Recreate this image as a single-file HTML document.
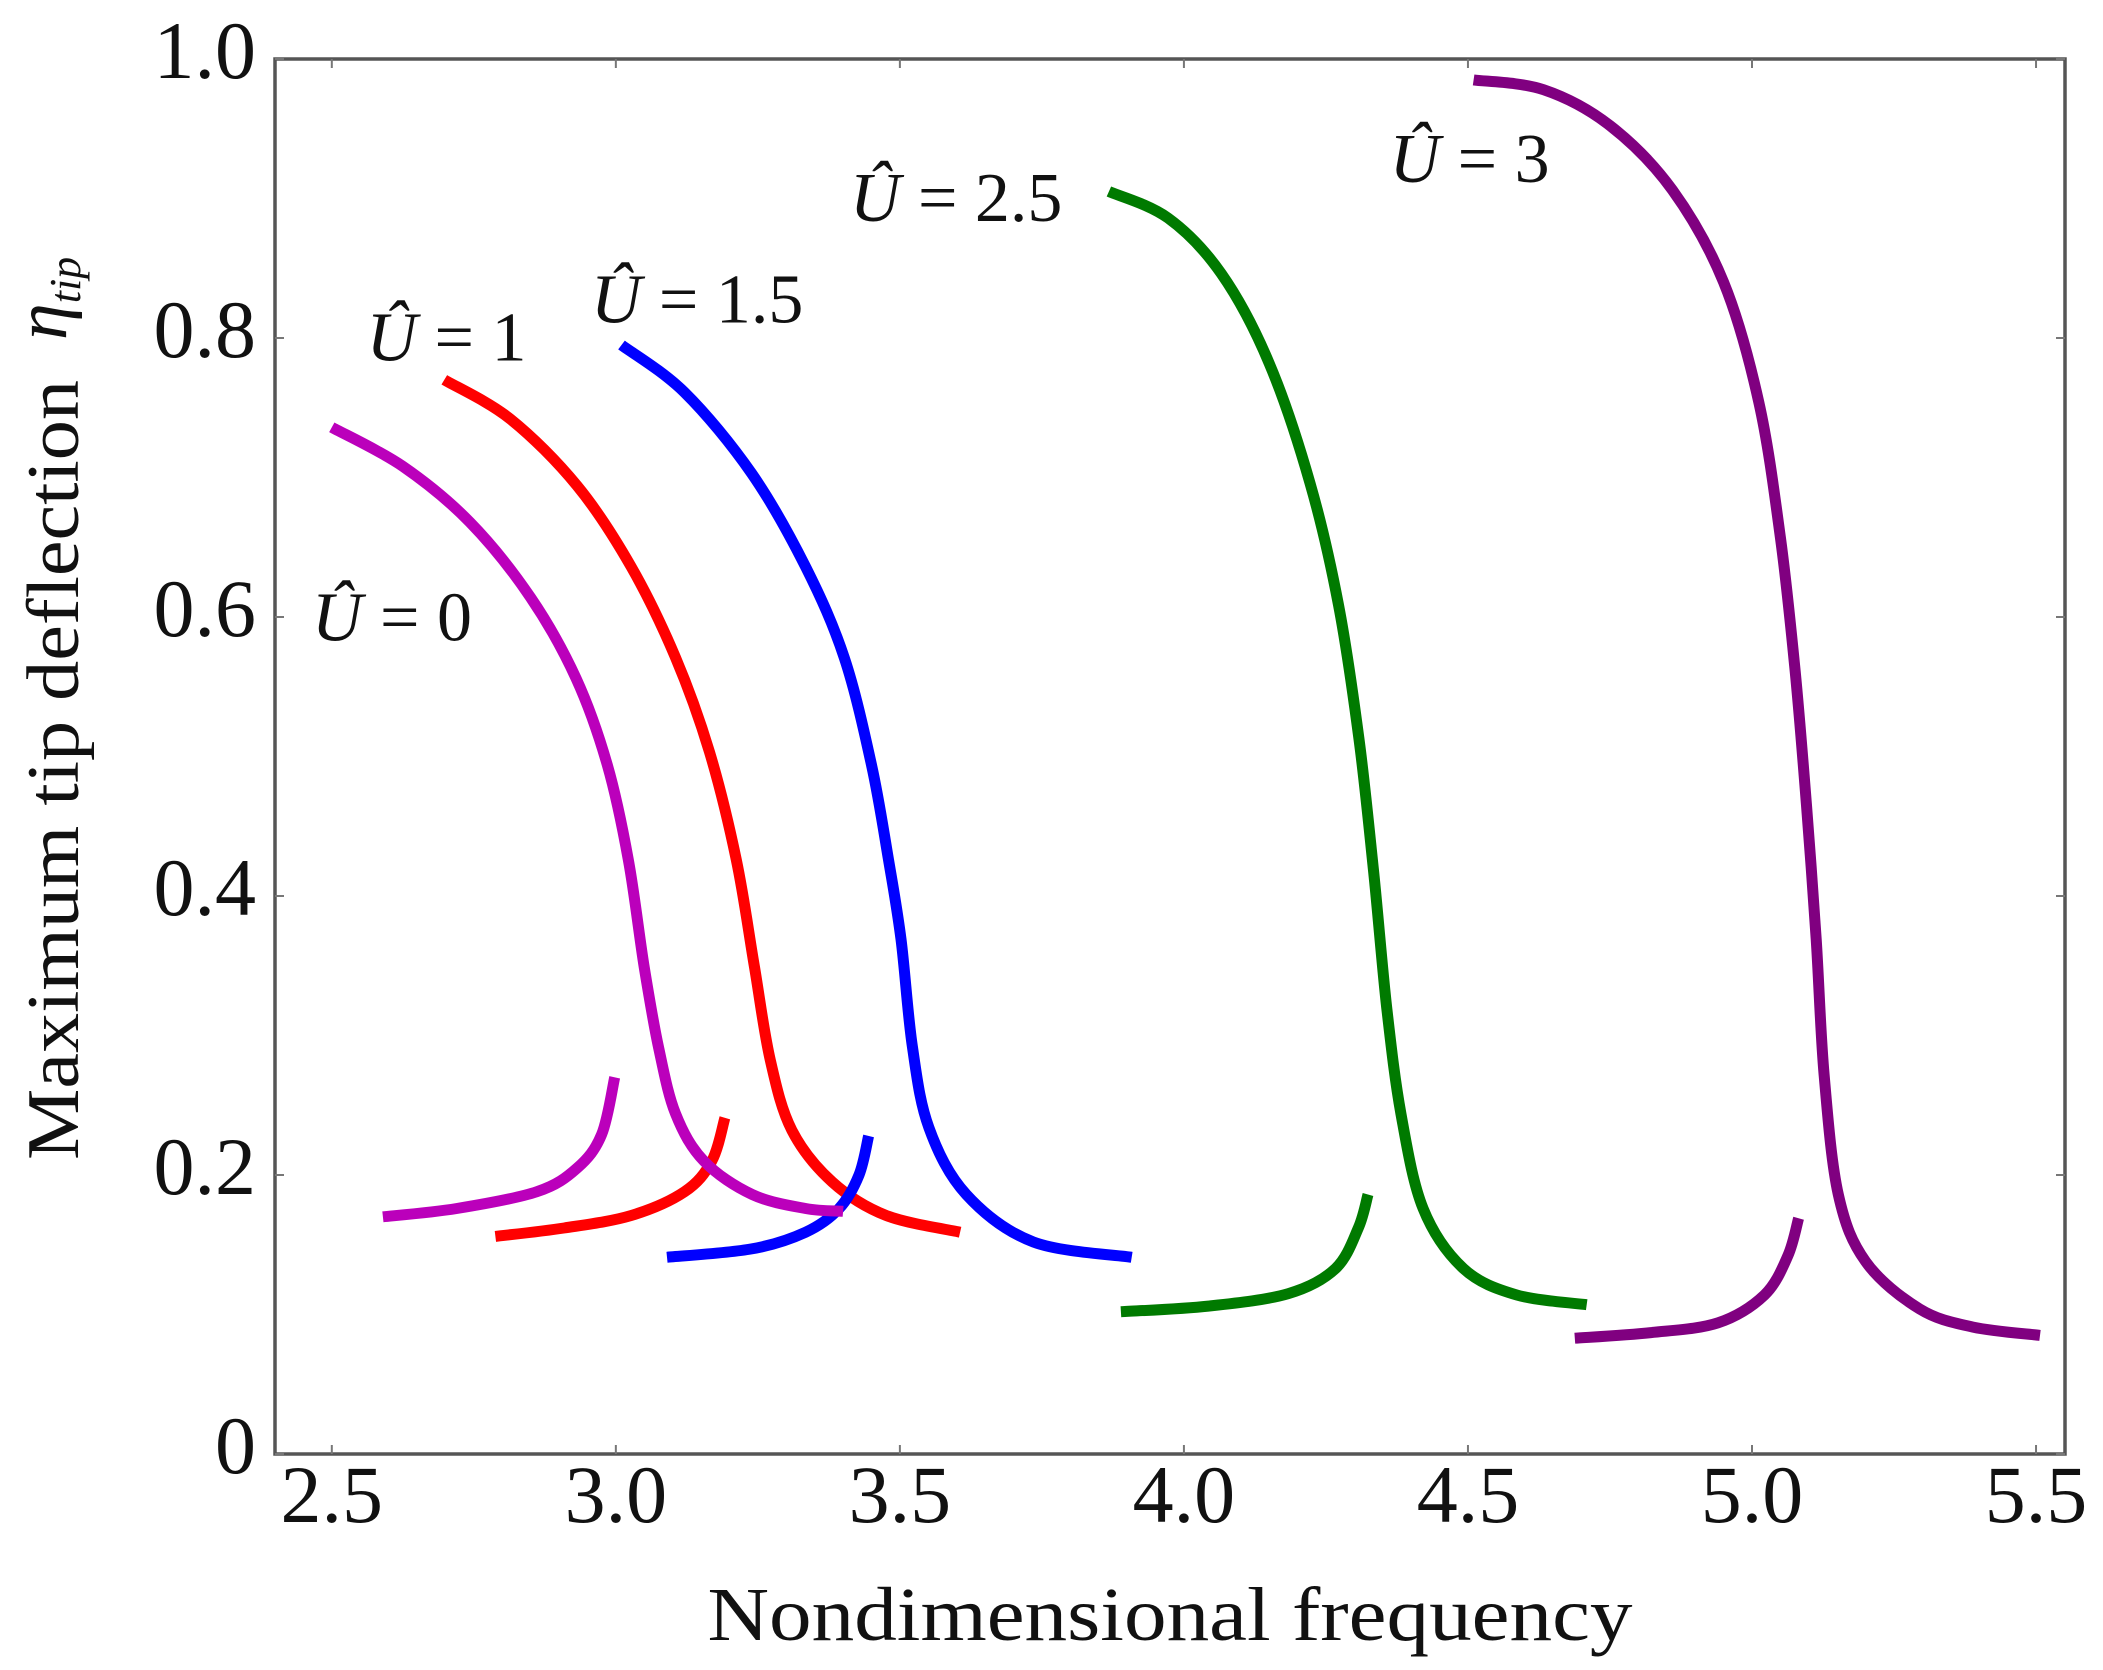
<!DOCTYPE html>
<html><head><meta charset="utf-8"><style>
html,body{margin:0;padding:0;background:#fff;}
svg{display:block;}
text{font-family:"Liberation Serif",serif;fill:#111;}
</style></head><body>
<svg id="chart" width="2103" height="1670" viewBox="0 0 2103 1670" xmlns="http://www.w3.org/2000/svg">
<g id="curves"></g>
<rect x="275" y="59" width="1790" height="1395" fill="none" stroke="#555" stroke-width="3.5"/>
<g id="ticks"></g>
<text x="1170" y="1640" font-size="76" text-anchor="middle" textLength="925" lengthAdjust="spacingAndGlyphs">Nondimensional frequency</text>
<g transform="translate(78,770) rotate(-90)">
<text x="0" y="0" font-size="74" text-anchor="middle" textLength="780" lengthAdjust="spacingAndGlyphs">Maximum tip deflection</text>
<text x="430" y="-12" font-size="74" font-style="italic">η<tspan font-size="44" dy="14">tip</tspan></text>
</g>
<g id="labels"></g>
</svg>
<script>
const xTicks = [2.5, 3.0, 3.5, 4.0, 4.5, 5.0, 5.5];
const xTickLabels = ["2.5","3.0","3.5","4.0","4.5","5.0","5.5"];
const yTicks = [0, 0.2, 0.4, 0.6, 0.8, 1.0];
const yTickLabels = ["0","0.2","0.4","0.6","0.8","1.0"];
const seriesNames = ["U=1","U=1.5","U=0","U=2.5","U=3"];
const seriesColors = ["#ff0000","#0000ff","#bb00bb","#007a00","#800080"];
const labelTexts = ["1","1.5","0","2.5","3"];
const labelAnchors = [[2.561,0.784],[2.956,0.811],[2.465,0.583],[3.412,0.884],[4.362,0.912]];
const u0Upper = [[2.5,0.736],[2.625,0.708],[2.743,0.668],[2.85,0.614],[2.93,0.556],[2.985,0.494],[3.022,0.426],[3.05,0.349],[3.075,0.292],[3.105,0.244],[3.155,0.21],[3.24,0.186],[3.334,0.176],[3.40,0.174]];
const u0Lower = [[2.59,0.170],[2.72,0.176],[2.861,0.188],[2.932,0.205],[2.975,0.229],[2.998,0.27]];
const u1Upper = [[2.698,0.77],[2.814,0.742],[2.932,0.694],[3.027,0.636],[3.105,0.571],[3.165,0.503],[3.212,0.426],[3.244,0.349],[3.272,0.282],[3.31,0.232],[3.381,0.195],[3.476,0.171],[3.606,0.159]];
const u1Lower = [[2.788,0.156],[2.909,0.162],[3.027,0.171],[3.121,0.188],[3.169,0.21],[3.192,0.241]];
const u15Upper = [[3.01,0.795],[3.121,0.761],[3.239,0.703],[3.334,0.636],[3.402,0.571],[3.45,0.494],[3.48,0.426],[3.502,0.369],[3.522,0.292],[3.551,0.234],[3.617,0.186],[3.735,0.152],[3.908,0.141]];
const u15Lower = [[3.09,0.141],[3.239,0.147],[3.334,0.159],[3.393,0.176],[3.428,0.20],[3.445,0.228]];
const u25Upper = [[3.868,0.905],[3.972,0.886],[4.066,0.846],[4.15,0.782],[4.222,0.696],[4.272,0.609],[4.308,0.513],[4.334,0.417],[4.357,0.32],[4.382,0.244],[4.421,0.176],[4.492,0.133],[4.586,0.114],[4.709,0.107]];
const u25Lower = [[3.889,0.102],[4.043,0.106],[4.184,0.115],[4.267,0.133],[4.307,0.162],[4.324,0.186]];
const u3Upper = [[4.51,0.985],[4.633,0.978],[4.751,0.952],[4.86,0.906],[4.95,0.84],[5.012,0.754],[5.05,0.657],[5.076,0.561],[5.096,0.465],[5.113,0.369],[5.127,0.272],[5.152,0.186],[5.2,0.138],[5.295,0.104],[5.389,0.091],[5.507,0.085]];
const u3Lower = [[4.688,0.083],[4.822,0.087],[4.94,0.094],[5.022,0.114],[5.063,0.142],[5.082,0.169]];
const seriesData = [[u1Upper,u1Lower],[u15Upper,u15Lower],[u0Upper,u0Lower],[u25Upper,u25Lower],[u3Upper,u3Lower]];

const NS = "http://www.w3.org/2000/svg";
const X0 = 275, X1 = 2065, Y0 = 1454, Y1 = 59;
const xMin = 2.40, xMax = 5.551, yMin = 0, yMax = 1;
function sx(v){ return X0 + (v - xMin) / (xMax - xMin) * (X1 - X0); }
function sy(v){ return Y0 - (v - yMin) / (yMax - yMin) * (Y0 - Y1); }

function smoothPath(pts){
  const p = pts.map(d => [sx(d[0]), sy(d[1])]);
  let s = "M" + p[0][0].toFixed(1) + "," + p[0][1].toFixed(1);
  for (let i = 0; i < p.length - 1; i++){
    const a = p[i-1] || p[i], b = p[i], c = p[i+1], d = p[i+2] || p[i+1];
    const c1 = [b[0] + (c[0]-a[0])/6, b[1] + (c[1]-a[1])/6];
    const c2 = [c[0] - (d[0]-b[0])/6, c[1] - (d[1]-b[1])/6];
    s += " C" + c1.map(v=>v.toFixed(1)).join(",") + " " + c2.map(v=>v.toFixed(1)).join(",") + " " + c.map(v=>v.toFixed(1)).join(",");
  }
  return s;
}

const curves = document.getElementById("curves");
seriesData.forEach((branches, si) => {
  branches.forEach((pts, bi) => {
    const path = document.createElementNS(NS, "path");
    path.setAttribute("d", smoothPath(pts));
    path.setAttribute("fill", "none");
    path.setAttribute("stroke", seriesColors[si]);
    path.setAttribute("stroke-width", "11");
    path.setAttribute("stroke-linejoin", "round");
    
    
    curves.appendChild(path);
  });
});

const ticks = document.getElementById("ticks");
function line(x1,y1,x2,y2){
  const l = document.createElementNS(NS, "line");
  l.setAttribute("x1", x1); l.setAttribute("y1", y1);
  l.setAttribute("x2", x2); l.setAttribute("y2", y2);
  l.setAttribute("stroke", "#777"); l.setAttribute("stroke-width", "2");
  return l;
}
xTicks.forEach((v, i) => {
  const x = sx(v);
  const t1 = line(x, Y0, x, Y0 - 9);
  
  
  ticks.appendChild(t1);
  const t2 = line(x, Y1, x, Y1 + 9);
  
  
  ticks.appendChild(t2);
  const t = document.createElementNS(NS, "text");
  t.setAttribute("x", x); t.setAttribute("y", 1522);
  t.setAttribute("font-size", "82"); t.setAttribute("text-anchor", "middle");
  t.textContent = xTickLabels[i];
  
  
  ticks.appendChild(t);
});
yTicks.forEach((v, i) => {
  const y = sy(v);
  const t1 = line(X0, y, X0 + 9, y);
  
  
  ticks.appendChild(t1);
  const t2 = line(X1, y, X1 - 9, y);
  
  
  ticks.appendChild(t2);
  const t = document.createElementNS(NS, "text");
  t.setAttribute("x", 256); t.setAttribute("y", y + 19);
  t.setAttribute("font-size", "82"); t.setAttribute("text-anchor", "end");
  t.textContent = yTickLabels[i];
  
  
  ticks.appendChild(t);
});

const labels = document.getElementById("labels");
labelAnchors.forEach((a, i) => {
  const t = document.createElementNS(NS, "text");
  t.setAttribute("x", sx(a[0])); t.setAttribute("y", sy(a[1]));
  t.setAttribute("font-size", "70");
  const u = document.createElementNS(NS, "tspan");
  u.setAttribute("font-style", "italic");
  u.textContent = "Û";
  t.appendChild(u);
  const r = document.createElementNS(NS, "tspan");
  r.textContent = " = " + labelTexts[i];
  t.appendChild(r);
  
  
  labels.appendChild(t);
});
</script>
</body></html>
